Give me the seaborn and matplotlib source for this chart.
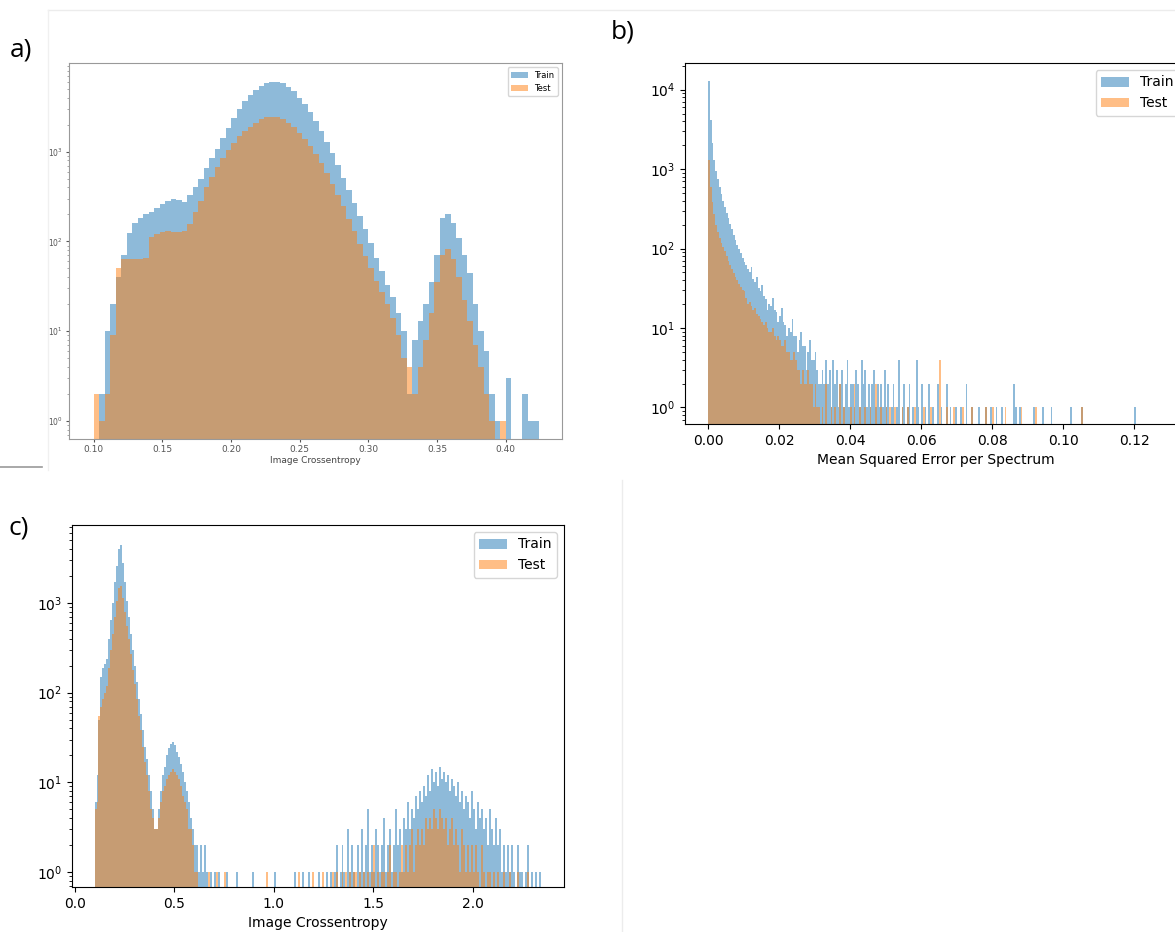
import numpy as np
import pandas as pd
import matplotlib
matplotlib.use("Agg")
import matplotlib.pyplot as plt
from matplotlib.lines import Line2D
import seaborn as sns

# ---- a) image crossentropy, bins of 0.004 starting at 0.100 ----
a_start, a_width = 0.100, 0.004
a_train = [0, 2, 10, 20, 40, 70, 125, 160, 180, 200,
           215, 235, 260, 280, 300, 290, 275, 330, 400, 500,
           660, 850, 1070, 1400, 1820, 2340, 3000, 3630, 4270, 4900,
           5370, 5750, 6030, 6030, 5750, 5250, 4680, 3980, 3390, 2750,
           2190, 1700, 1290, 955, 710, 510, 370, 270, 190, 138,
           95, 66, 47, 33, 24, 16, 10, 2, 8, 13,
           20, 35, 70, 180, 200, 160, 110, 70, 45, 20,
           10, 6, 2, 1, 0, 3, 0, 0, 2, 1, 1]
a_test = [2, 1, 2, 9, 50, 63, 63, 63, 63, 66,
          112, 120, 126, 132, 126, 126, 132, 158, 210, 280,
          400, 525, 680, 850, 1050, 1260, 1480, 1700, 1900, 2090,
          2290, 2400, 2450, 2400, 2290, 2090, 1860, 1620, 1380, 1150,
          930, 740, 575, 440, 330, 245, 178, 129, 93, 68,
          50, 36, 27, 20, 14, 9, 5, 4, 2, 4,
          8, 16, 35, 70, 83, 63, 40, 22, 13, 7,
          4, 2, 1, 0, 1, 0, 0, 0, 0, 0, 0]

# ---- b) mean squared error per spectrum, bins of 0.0005 from 0 ----
b_start, b_width, b_stop = 0.0, 0.0005, 0.1225
b_body_train = [13000, 4200, 2100, 1300, 950, 740, 600, 490, 400, 330,
                280, 240, 205, 175, 150, 128, 112, 98, 88, 76,
                68, 62, 55, 50, 58, 41, 38, 44, 32, 29,
                35, 25, 23, 17, 20, 19, 24, 17, 16, 12,
                14, 18, 12, 11, 8, 10, 9, 13, 8, 8,
                5, 7, 9, 6, 6, 3, 5, 7, 4, 4,
                5, 3, 2, 2]
b_body_test = [1300, 600, 380, 270, 200, 160, 135, 118, 105, 92,
               80, 70, 62, 55, 49, 44, 40, 36, 33, 30,
               29, 24, 20, 21, 19, 17, 18, 15, 14, 13,
               12, 11, 12, 10, 9, 9, 10, 8, 7, 8,
               7, 6, 6, 7, 5, 5, 4, 4, 5, 4,
               3, 3, 2, 3, 2, 2, 3, 2, 2, 1,
               2, 1, 1, 0]
b_tail_x_train = [0.03225, 0.03275, 0.03325, 0.03375, 0.03425, 0.03475, 0.03525, 0.03575,
                  0.03625, 0.03675, 0.03725, 0.03775, 0.03825, 0.03875, 0.03925, 0.03975,
                  0.04025, 0.04075, 0.04125, 0.04175, 0.04225, 0.04275, 0.04325, 0.04375,
                  0.04425, 0.04475, 0.04525, 0.04575, 0.04625, 0.04675, 0.04725, 0.04775,
                  0.04825, 0.04875, 0.04925, 0.04975, 0.05025, 0.05075, 0.05175, 0.05225,
                  0.05325, 0.05375, 0.05475, 0.05525, 0.05625, 0.05675, 0.05775, 0.05875,
                  0.05925, 0.06025, 0.06125, 0.06225, 0.06325, 0.06475, 0.06575, 0.06725,
                  0.06825, 0.06975, 0.07125, 0.07275, 0.07425, 0.07625, 0.07825, 0.07975,
                  0.08125, 0.08275, 0.08625, 0.08675, 0.08775, 0.09175, 0.09425, 0.09675,
                  0.10225, 0.10525, 0.12025]
b_tail_train = [3, 2, 4, 2, 3, 1, 4, 2,
                3, 1, 2, 3, 1, 2, 4, 1,
                2, 2, 1, 3, 2, 1, 4, 2,
                3, 1, 2, 1, 2, 3, 1, 2,
                1, 2, 1, 3, 1, 2, 1, 2,
                1, 4, 1, 2, 1, 2, 1, 4,
                1, 2, 1, 2, 1, 2, 1, 2,
                1, 1, 1, 2, 1, 1, 1, 1,
                1, 1, 2, 1, 1, 1, 1, 1,
                1, 1, 1]
b_tail_x_test = [0.03225, 0.03325, 0.03475, 0.03575, 0.03725, 0.03825, 0.04025, 0.04125,
                 0.04275, 0.04425, 0.04575, 0.04725, 0.04875, 0.05025, 0.05125, 0.05275,
                 0.05475, 0.05625, 0.05825, 0.06075, 0.06275, 0.06525, 0.06725, 0.06925,
                 0.07175, 0.07425, 0.07825, 0.08025, 0.08375, 0.08825, 0.09225, 0.10525]
b_tail_test = [1, 2, 1, 1, 2, 1, 1, 2,
               1, 1, 1, 2, 1, 1, 1, 1,
               1, 1, 1, 1, 1, 4, 1, 1,
               1, 1, 1, 1, 1, 1, 1, 1]

# ---- c) image crossentropy, bins of 0.01 from 0.10 ----
c_start, c_width, c_stop = 0.10, 0.01, 2.34
c_main_train = [6, 12, 50, 150, 190, 210, 240, 400, 650, 1000,
                1700, 2600, 4000, 4400, 2800, 1700, 1050, 700, 450, 300,
                200, 130, 85, 58, 38, 25, 18, 12, 8, 5,
                3, 3, 5, 8, 12, 15, 20, 24, 27, 28,
                26, 22, 19, 16, 13, 10, 8, 6, 4, 3,
                2, 2, 1, 2, 1, 2, 1, 0, 1, 0]
c_main_test = [5, 6, 55, 70, 85, 100, 120, 190, 300, 450,
               700, 1050, 1450, 1550, 1150, 800, 560, 400, 270, 180,
               125, 85, 55, 38, 25, 17, 12, 8, 5, 4,
               3, 3, 4, 6, 8, 9, 11, 12, 13, 14,
               13, 12, 11, 9, 7, 6, 5, 3, 3, 2,
               1, 1, 0, 0, 0, 0, 0, 1, 0, 0]
c_gap_x_train = [0.705, 0.725, 0.765, 0.815, 0.895, 1.005, 1.105, 1.145, 1.175, 1.225, 1.265]
c_gap_x_test = [0.715, 0.755, 0.965, 1.125, 1.195, 1.245]
c_far_start = 1.28
c_far_train = [1, 0, 1, 2, 0, 1, 2, 1, 0, 3,
               1, 2, 1, 0, 2, 1, 3, 1, 2, 5,
               1, 2, 1, 3, 2, 1, 2, 4, 1, 2,
               3, 1, 2, 5, 2, 3, 1, 4, 3, 6,
               3, 5, 4, 7, 5, 8, 6, 9, 7, 12,
               8, 14, 10, 13, 9, 15, 11, 13, 10, 12,
               8, 11, 9, 7, 10, 6, 8, 5, 7, 6,
               4, 8, 5, 3, 6, 4, 5, 3, 4, 2,
               5, 3, 2, 4, 2, 3, 1, 2, 1, 2,
               1, 2, 1, 0, 2, 1, 1, 0, 1, 2,
               0, 1, 0, 1, 0, 1]
c_far_test = [0, 1, 0, 1, 0, 0, 1, 0, 1, 0,
              1, 0, 1, 1, 0, 1, 0, 1, 0, 1,
              0, 1, 2, 0, 1, 0, 1, 1, 0, 1,
              2, 0, 1, 1, 0, 1, 2, 1, 2, 1,
              2, 3, 1, 2, 3, 2, 3, 2, 4, 3,
              4, 3, 5, 4, 3, 5, 4, 3, 4, 2,
              3, 4, 2, 3, 2, 1, 3, 2, 1, 2,
              1, 2, 1, 2, 1, 0, 2, 1, 0, 1,
              1, 0, 1, 0, 1, 0, 0, 1, 0, 0,
              1, 0, 0, 0, 1, 0, 0, 0, 0, 1,
              0, 0, 0, 0, 0, 0]

train_color = "#1f77b4"
test_color = "#ff7f0e"


def centers(start, width, n):
    return start + width * (np.arange(n) + 0.5)


def edges(start, stop, width):
    n = int(round((stop - start) / width))
    return list(start + width * np.arange(n + 1))


def draw(ax, x_train, w_train, x_test, w_test, bins):
    # one histogram per split, counts given as weights on bin centres
    for xs, ws, color, name in [(x_train, w_train, train_color, "Train"),
                                (x_test, w_test, test_color, "Test")]:
        df = pd.DataFrame({"x": np.asarray(xs, float), "w": np.asarray(ws, float)})
        sns.histplot(data=df, x="x", weights="w", bins=bins, ax=ax, color=color,
                     alpha=0.5, linewidth=0, label=name)
    ax.set_yscale("log")
    ax.set_ylabel("")


W, H = 1175, 932
fig = plt.figure(figsize=(W / 100, H / 100), dpi=100)


def box(left, top, right, bottom):
    return [left / W, 1 - bottom / H, (right - left) / W, (bottom - top) / H]


# panel a
ax_a = fig.add_axes(box(69, 63, 562, 439))
a_x = centers(a_start, a_width, len(a_train))
draw(ax_a, a_x, a_train, a_x, a_test, edges(a_start, a_start + a_width * len(a_train), a_width))
ax_a.set_xlim(0.082, 0.441)
ax_a.set_ylim(0.63, 9700)
ax_a.set_xlabel("Image Crossentropy", fontsize=6.5, labelpad=1, color="#444444")
ax_a.tick_params(axis="x", labelsize=6.5, length=2.5, pad=2, colors="#555555")
ax_a.tick_params(axis="y", which="major", labelsize=5.5, length=2.5, pad=2, colors="#555555")
ax_a.tick_params(axis="y", which="minor", length=1.2, colors="#999999")
for s in ax_a.spines.values():
    s.set_color("#999999")
ax_a.legend(loc="upper right", fontsize=6, handlelength=2, borderpad=0.4)

# panel b
ax_b = fig.add_axes(box(685, 63, 1186, 424))
b_x_train = np.concatenate([centers(b_start, b_width, len(b_body_train)), b_tail_x_train])
b_w_train = np.concatenate([b_body_train, b_tail_train])
b_x_test = np.concatenate([centers(b_start, b_width, len(b_body_test)), b_tail_x_test])
b_w_test = np.concatenate([b_body_test, b_tail_test])
draw(ax_b, b_x_train, b_w_train, b_x_test, b_w_test, edges(b_start, b_stop, b_width))
ax_b.set_xlim(-0.0065, 0.1346)
ax_b.set_ylim(0.62, 21600)
ax_b.set_xticks([0.0, 0.02, 0.04, 0.06, 0.08, 0.10, 0.12])
ax_b.set_xlabel("Mean Squared Error per Spectrum", fontsize=10)
ax_b.tick_params(labelsize=10)
ax_b.legend(loc="upper right", fontsize=10)

# panel c
ax_c = fig.add_axes(box(72, 525, 564, 887))
c_x_train = np.concatenate([centers(c_start, c_width, len(c_main_train)), c_gap_x_train,
                            centers(c_far_start, c_width, len(c_far_train))])
c_w_train = np.concatenate([c_main_train, np.ones(len(c_gap_x_train)), c_far_train])
c_x_test = np.concatenate([centers(c_start, c_width, len(c_main_test)), c_gap_x_test,
                           centers(c_far_start, c_width, len(c_far_test))])
c_w_test = np.concatenate([c_main_test, np.ones(len(c_gap_x_test)), c_far_test])
draw(ax_c, c_x_train, c_w_train, c_x_test, c_w_test, edges(c_start, c_stop, c_width))
ax_c.set_xlim(-0.013, 2.457)
ax_c.set_ylim(0.68, 7400)
ax_c.set_xticks([0.0, 0.5, 1.0, 1.5, 2.0])
ax_c.set_xlabel("Image Crossentropy", fontsize=10)
ax_c.tick_params(labelsize=10)
ax_c.legend(loc="upper right", fontsize=10)

# panel letters
label_font = ["Open Sans", "DejaVu Sans"]
fig.text(10 / W, 1 - 50 / H, "a)", fontsize=19, family=label_font, va="center", ha="left")
fig.text(611 / W, 1 - 32 / H, "b)", fontsize=19, family=label_font, va="center", ha="left")
fig.text(9 / W, 1 - 528 / H, "c)", fontsize=19, family=label_font, va="center", ha="left")


# faint screenshot borders
def line(x0, y0, x1, y1, color, lw=1.0):
    fig.add_artist(Line2D([x0 / W, x1 / W], [1 - y0 / H, 1 - y1 / H], color=color, lw=lw))


line(48, 10, 1175, 10, "#ececec")
line(48, 10, 48, 470, "#f0f0f0")
line(0, 467, 42, 467, "#9a9a9a", 1.2)
line(622, 480, 622, 932, "#ececec")

fig.savefig("out.png", dpi=100)
